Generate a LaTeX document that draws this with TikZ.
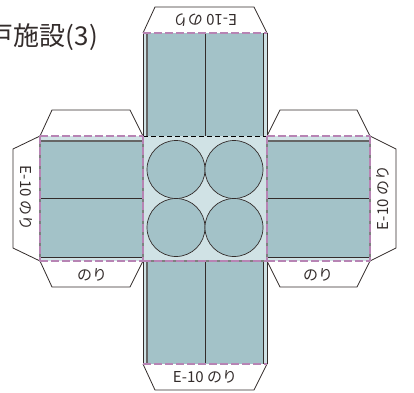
\documentclass[tikz,border=0pt]{standalone}
\usepackage{fontspec}
\usepackage{xcolor}
\setmainfont{Noto Sans CJK JP}
\definecolor{panelteal}{HTML}{A3C2C8}
\definecolor{paleteal}{HTML}{D0E2E5}
\definecolor{foldpink}{HTML}{B784B4}
\definecolor{inkdark}{HTML}{332C2B}
\tikzset{
    tabline/.style={draw=inkdark, line width=0.8pt, fill=white},
    edgeline/.style={draw=inkdark, line width=0.8pt},
    greyline/.style={draw=black!60, line width=1.4pt},
    foldline/.style={draw=foldpink, line width=1.3pt, dash pattern=on 8pt off 3pt},
    gapline/.style={draw=black!50, line width=1.2pt, dash pattern=on 3pt off 8pt, dash phase=-8pt},
    blackfold/.style={draw=black, line width=0.9pt, dash pattern=on 5pt off 3pt},
    ball/.style={circle, draw=inkdark, line width=0.7pt, fill=panelteal, inner sep=0pt, minimum size=58pt},
    tablabel/.style={inner sep=0pt, font=\fontsize{15}{15}\selectfont, text=inkdark}
}
\begin{document}
\begin{tikzpicture}[x=1pt, y=-1pt]
    \useasboundingbox (0, 0) rectangle (414, 392);
    \begin{scope}
        \clip (0, 0) rectangle (414, 392);
        \node[inner sep=0pt, anchor=east, font=\fontsize{26}{26}\selectfont, text=inkdark] (title) at (98, 37) {戸施設(3)};
    \end{scope}

    % glue tabs
    \draw[tabline] (143, 33) -- (155, 7) -- (254, 7) -- (267, 33);
    \draw[tabline] (143, 364) -- (155, 390) -- (254, 390) -- (267, 364);
    \draw[tabline] (40, 136) -- (52, 110) -- (130, 110) -- (143, 136);
    \draw[tabline] (40, 261) -- (52, 287) -- (130, 287) -- (143, 261);
    \draw[tabline] (267, 136) -- (280, 110) -- (357, 110) -- (370, 136);
    \draw[tabline] (267, 261) -- (280, 287) -- (357, 287) -- (370, 261);
    \draw[tabline] (40, 136) -- (13, 149) -- (13, 248) -- (40, 261);
    \draw[tabline] (370, 136) -- (396, 149) -- (396, 248) -- (370, 261);

    % panels
    \fill[paleteal] (143, 33) rectangle (267, 364);
    \fill[paleteal] (40, 136) rectangle (370, 261);
    \fill[panelteal] (147, 33) rectangle (263, 136);
    \fill[panelteal] (147, 261) rectangle (263, 364);
    \fill[panelteal] (40, 141) rectangle (143, 257);
    \fill[panelteal] (267, 141) rectangle (370, 257);

    % panel lines
    \draw[edgeline] (143, 33) -- (143, 136);
    \draw[edgeline] (267, 33) -- (267, 136);
    \draw[edgeline] (143, 261) -- (143, 364);
    \draw[edgeline] (267, 261) -- (267, 364);
    \draw[greyline] (147, 33) -- (147, 136);
    \draw[edgeline] (263, 33) -- (263, 136);
    \draw[greyline] (147, 261) -- (147, 364);
    \draw[edgeline] (263, 261) -- (263, 364);
    \draw[edgeline] (205, 33) -- (205, 136);
    \draw[edgeline] (205, 261) -- (205, 364);
    \draw[greyline] (40, 141) -- (143, 141);
    \draw[greyline] (267, 141) -- (370, 141);
    \draw[edgeline] (40, 198) -- (143, 198);
    \draw[edgeline] (267, 198) -- (370, 198);
    \draw[edgeline] (40, 257) -- (143, 257);
    \draw[edgeline] (267, 257) -- (370, 257);

    % folds
    \draw[blackfold] (143, 136) -- (267, 136);
    \draw[foldline] (143, 261) -- (267, 261);
    \draw[gapline] (143, 261) -- (267, 261);
    \draw[foldline] (143, 33) -- (267, 33);
    \draw[foldline] (143, 364) -- (267, 364);
    \draw[foldline] (40, 136) -- (143, 136);
    \draw[foldline] (267, 136) -- (370, 136);
    \draw[foldline] (40, 261) -- (143, 261);
    \draw[foldline] (267, 261) -- (370, 261);
    \draw[foldline] (40, 136) -- (40, 261);
    \draw[gapline] (40, 136) -- (40, 261);
    \draw[foldline] (370, 136) -- (370, 261);
    \draw[gapline] (370, 136) -- (370, 261);
    \draw[foldline] (143, 136) -- (143, 261);
    \draw[gapline] (143, 136) -- (143, 261);
    \draw[foldline] (267, 136) -- (267, 261);
    \draw[gapline] (267, 136) -- (267, 261);

    % bottles
    \node[ball] (ball1) at (176, 169.5) {};
    \node[ball] (ball2) at (234, 169.5) {};
    \node[ball] (ball3) at (176, 227.5) {};
    \node[ball] (ball4) at (234, 227.5) {};

    % tab labels
    \node[tablabel, rotate=180] (toplabel) at (205, 20) {E-10 のり};
    \node[tablabel] (bottomlabel) at (205, 377) {E-10 のり};
    \node[tablabel, rotate=-90] (leftlabel) at (26, 198) {E-10 のり};
    \node[tablabel, rotate=90] (rightlabel) at (383, 198) {E-10 のり};
    \node[tablabel] (gluel) at (92, 275) {のり};
    \node[tablabel] (gluer) at (318, 275) {のり};
\end{tikzpicture}
\end{document}
